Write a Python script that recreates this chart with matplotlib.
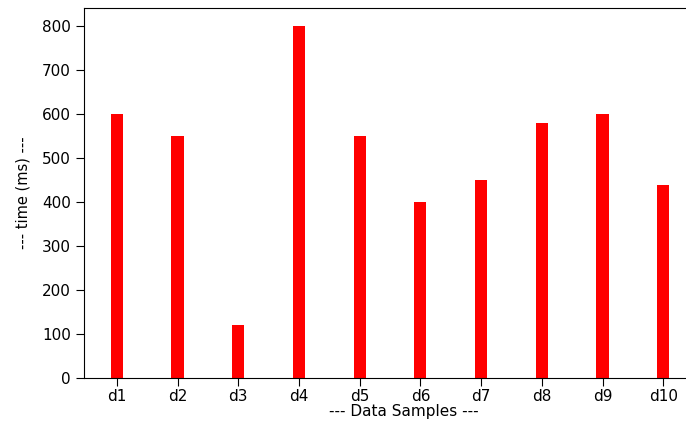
import matplotlib
matplotlib.use("Agg")
import matplotlib.pyplot as plt

samples = ["d1", "d2", "d3", "d4", "d5", "d6", "d7", "d8", "d9", "d10"]
times_ms = [600, 550, 120, 800, 550, 400, 450, 580, 600, 438]

fig = plt.figure(figsize=(6.86, 4.22), dpi=100)
# axes run past the right edge, as in the (cropped) original
ax = fig.add_axes([84 / 686, 44 / 422, 640 / 686, 370 / 422])
ax.bar(samples, times_ms, width=0.2, color="red")
ax.set_xlim(-0.54, 10.0)
ax.spines["right"].set_visible(False)
ax.tick_params(labelsize=11, length=6)
ax.tick_params(axis="x", pad=2)
ax.set_xlabel("--- Data Samples ---", fontsize=11, labelpad=0)
ax.set_ylabel("--- time (ms) ---", fontsize=10.5, labelpad=8)
fig.savefig("out.png", dpi=100)
